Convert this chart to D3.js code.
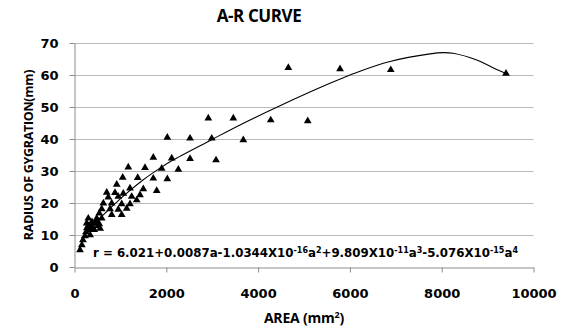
<!DOCTYPE html>
<html>
<head>
<meta charset="utf-8">
<script src="https://cdn.jsdelivr.net/npm/d3@7"></script>
<style>
  body { margin: 0; background: #fff; }
  svg text { fill: #000; }
</style>
</head>
<body>
<div class="ar-chart"></div>
<script>
// scatter values (area in mm², radius in mm)
const areas = [
  120, 160, 185, 230, 250, 270, 300, 320, 340, 360, 380, 400, 430, 450, 490, 510, 540, 560,
  266, 301, 447, 484, 540, 593, 593, 628, 702, 736, 774, 811, 811, 882, 920, 954, 954,
  1028, 1028, 1063, 1137, 1209, 1209, 1246, 1355, 1427, 1499, 1791,
  1050, 1172, 1377, 1536, 1717, 1717, 1900, 2022, 2022, 2118, 2262, 2517, 2517, 2990,
  3083, 2915, 3460, 3678, 4275, 5081, 4659, 5785, 6890, 9401
];
const radii = [
  5.3, 6.9, 8.4, 9.7, 10.9, 12.2, 12.8, 11.6, 10.0, 12.8, 14.1, 12.0, 11.6, 13.7, 14.4, 12.8, 13.4, 12.0,
  13.7, 15.2, 13.7, 15.2, 16.8, 15.2, 18.1, 19.9, 23.3, 21.8, 18.1, 19.9, 16.3, 23.2, 25.8, 22.0, 18.0,
  19.7, 16.3, 23.0, 18.3, 24.6, 19.7, 22.0, 20.9, 22.5, 24.4, 23.8,
  28.0, 31.2, 27.9, 31.0, 34.2, 27.7, 30.8, 40.5, 27.5, 34.0, 30.5, 40.2, 33.8, 40.2,
  33.4, 46.5, 46.5, 39.7, 45.9, 45.6, 62.3, 61.9, 61.6, 60.5
];

// trend line as it appears in the picture
const curveArea = [150, 400, 702, 1100, 1492, 1863, 2118, 2989, 3606, 4477, 5566, 6148, 6874, 7745, 8028, 8246, 8763, 9198, 9401];
const curveRadius = [9.0, 13.0, 17.3, 22.6, 27.2, 30.9, 33.2, 39.8, 44.4, 50.4, 57.4, 60.8, 64.2, 66.6, 67.0, 66.8, 64.7, 61.7, 60.5];

const xTicks = [0, 2000, 4000, 6000, 8000, 10000];
const yTicks = [0, 10, 20, 30, 40, 50, 60, 70];

const width = 566, height = 329;
const margin = {left: 74.5, right: 32.5, top: 43, bottom: 62};

const svg = d3.select('.ar-chart')
  .append('svg')
  .attr('width', width)
  .attr('height', height);

const x = d3.scaleLinear().domain([0, 10000]).range([margin.left, width - margin.right]);
const y = d3.scaleLinear().domain([0, 70]).range([height - margin.bottom, margin.top]);

// gridlines
svg.append('g')
  .selectAll('line')
  .data(yTicks.filter(d => d > 0))
  .enter().append('line')
  .attr('x1', x(0))
  .attr('x2', x(10000))
  .attr('y1', d => Math.round(y(d)) + 0.5)
  .attr('y2', d => Math.round(y(d)) + 0.5)
  .style('stroke', '#b9b9b9')
  .style('stroke-width', 1.2);

const tickFont = 'DejaVu Sans, Verdana, sans-serif';
const titleFont = '"Open Sans", "Noto Sans", sans-serif';

const yAxis = svg.append('g')
  .attr('transform', 'translate(' + x(0) + ',0)')
  .call(d3.axisLeft(y).tickValues(yTicks).tickSize(5).tickSizeOuter(0).tickPadding(11));
const xAxis = svg.append('g')
  .attr('transform', 'translate(0,' + (Math.round(y(0)) + 0.5) + ')')
  .call(d3.axisBottom(x).tickValues(xTicks).tickSize(5).tickSizeOuter(0).tickPadding(16).tickFormat(d3.format('d')));

[xAxis, yAxis].forEach(function (ax) {
  ax.select('.domain').style('stroke', '#8c8c8c');
  ax.selectAll('.tick line').style('stroke', '#8c8c8c');
  ax.selectAll('.tick text')
    .style('font-family', tickFont)
    .style('font-weight', 'bold')
    .style('font-size', '13px')
    .style('fill', '#000');
});

// trend line
const line = d3.line()
  .x((d, i) => x(curveArea[i]))
  .y((d, i) => y(curveRadius[i]))
  .curve(d3.curveCatmullRom.alpha(0.5));
svg.append('path')
  .datum(curveRadius)
  .attr('d', line)
  .style('fill', 'none')
  .style('stroke', '#000')
  .style('stroke-width', 1.1);

// markers
svg.append('g')
  .selectAll('path')
  .data(areas)
  .enter().append('path')
  .attr('d', d3.symbol().type(d3.symbolTriangle).size(26))
  .attr('transform', (d, i) => 'translate(' + x(d) + ',' + y(radii[i]) + ')')
  .style('fill', '#000');

// titles
svg.append('text')
  .attr('x', 259)
  .attr('y', 22)
  .attr('text-anchor', 'middle')
  .style('font-family', titleFont)
  .style('font-weight', 700)
  .style('font-size', '17px')
  .style('letter-spacing', '-0.4px')
  .text('A-R CURVE');

const xTitle = svg.append('text')
  .attr('x', x(5000))
  .attr('y', 323)
  .attr('text-anchor', 'middle')
  .style('font-family', titleFont)
  .style('font-weight', 700)
  .style('font-size', '14px')
  .style('letter-spacing', '-0.2px');
xTitle.append('tspan').text('AREA (mm');
xTitle.append('tspan').attr('dy', -5).style('font-size', '9px').text('2');
xTitle.append('tspan').attr('dy', 5).text(')');

svg.append('text')
  .attr('transform', 'translate(33,' + y(35) + ') rotate(-90)')
  .attr('text-anchor', 'middle')
  .style('font-family', titleFont)
  .style('font-weight', 700)
  .style('font-size', '12.5px')
  .style('letter-spacing', '-0.3px')
  .text('RADIUS OF GYGRATION(mm)');

// fitted equation
const eqParts = [
  ['r = 6.021+0.0087a-1.0344X10', ''], ['-16', 'sup'], ['a', ''], ['2', 'sup'],
  ['+9.809X10', ''], ['-11', 'sup'], ['a', ''], ['3', 'sup'],
  ['-5.076X10', ''], ['-15', 'sup'], ['a', ''], ['4', 'sup']
];
const eq = svg.append('text')
  .attr('x', 93)
  .attr('y', 257)
  .style('font-family', tickFont)
  .style('font-weight', 'bold')
  .style('font-size', '11.8px');
let raised = false;
eqParts.forEach(function (p) {
  const t = eq.append('tspan').text(p[0]);
  if (p[1] === 'sup' && !raised) { t.attr('dy', -4).style('font-size', '8px'); raised = true; }
  else if (p[1] === 'sup') { t.style('font-size', '8px'); }
  else if (raised) { t.attr('dy', 4); raised = false; }
});
</script>
</body>
</html>
